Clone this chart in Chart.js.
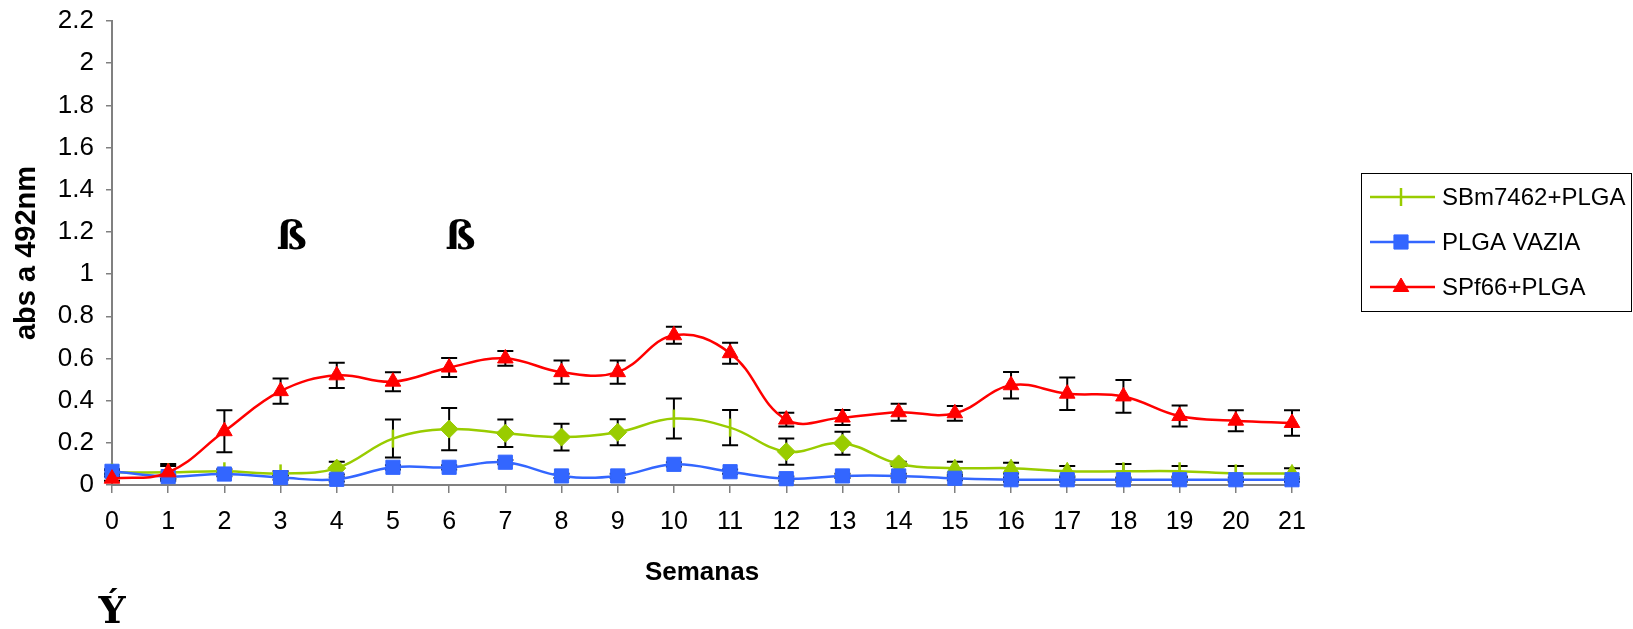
<!DOCTYPE html>
<html>
<head>
<meta charset="utf-8">
<script src="https://cdn.jsdelivr.net/npm/chart.js@4.4.0/dist/chart.umd.min.js"></script>
<style>
  html, body { margin: 0; padding: 0; background: #fff; }
</style>
</head>
<body>
<canvas id="absChart" width="1633" height="629"></canvas>
<script>
// semanas (eixo x)
const weeks = ['0', '1', '2', '3', '4', '5', '6', '7', '8', '9', '10', '11', '12', '13', '14', '15', '16', '17', '18', '19', '20', '21'];
const yTicks = [0, 0.2, 0.4, 0.6, 0.8, 1, 1.2, 1.4, 1.6, 1.8, 2, 2.2];

// médias
const sbmPlga = [0.06, 0.06, 0.065, 0.055, 0.08, 0.22, 0.265, 0.245, 0.227, 0.25, 0.315, 0.272, 0.158, 0.198, 0.10, 0.08, 0.08, 0.065, 0.065, 0.065, 0.055, 0.055];
const plgaVazia = [0.065, 0.04, 0.052, 0.035, 0.027, 0.084, 0.084, 0.108, 0.043, 0.043, 0.098, 0.063, 0.03, 0.043, 0.043, 0.032, 0.025, 0.025, 0.025, 0.025, 0.025, 0.025];
const spfPlga = [0.03, 0.06, 0.255, 0.445, 0.52, 0.49, 0.557, 0.60, 0.535, 0.535, 0.71, 0.625, 0.31, 0.32, 0.345, 0.34, 0.473, 0.433, 0.42, 0.327, 0.305, 0.294];

// desvios (meia barra)
const sbmErr = [0.01, 0.03, 0.01, 0.01, 0.03, 0.09, 0.10, 0.065, 0.063, 0.062, 0.095, 0.084, 0.062, 0.055, 0.01, 0.03, 0.025, 0.025, 0.035, 0.025, 0.035, 0.025];
const vaziaErr = [0.01, 0.01, 0.01, 0.01, 0.01, 0.01, 0.01, 0.01, 0.01, 0.01, 0.01, 0.01, 0.01, 0.01, 0.01, 0.01, 0.01, 0.01, 0.01, 0.01, 0.01, 0.01];
const spfErr = [0.01, 0.04, 0.1, 0.06, 0.06, 0.045, 0.045, 0.035, 0.055, 0.055, 0.04, 0.05, 0.033, 0.036, 0.04, 0.035, 0.063, 0.077, 0.078, 0.05, 0.05, 0.06];

// marcadores do SBm7462 mudam ao longo da série
const sbmMarks = ['line', 'line', 'line', 'line', 'rectRot', 'line', 'rectRot', 'rectRot', 'rectRot', 'rectRot', 'line', 'line',
  'rectRot', 'rectRot', 'rectRot', 'triangle', 'triangle', 'triangle', 'line', 'line', 'line', 'triangle'];

const betaWeeks = [3.2, 6.2];
const betaLevel = 1.17;

const GREEN = '#99CC00', BLUE = '#3366FF', RED = '#FF0000';
const FONT = 'Liberation Sans, Arial, sans-serif';

const errorBars = {
  id: 'errorBars',
  beforeDatasetsDraw(chart) {
    const { ctx, scales: { x, y } } = chart;
    ctx.save();
    ctx.strokeStyle = '#000';
    ctx.lineWidth = 2;
    chart.data.datasets.forEach(ds => {
      ds.data.forEach((v, i) => {
        const px = x.getPixelForValue(i);
        const top = y.getPixelForValue(v + ds.err[i]);
        const bot = y.getPixelForValue(Math.max(v - ds.err[i], 0));
        ctx.beginPath();
        ctx.moveTo(px, top); ctx.lineTo(px, bot);
        ctx.moveTo(px - 8, top); ctx.lineTo(px + 8, top);
        ctx.moveTo(px - 8, bot); ctx.lineTo(px + 8, bot);
        ctx.stroke();
      });
    });
    ctx.restore();
  }
};

const extras = {
  id: 'extras',
  afterDraw(chart) {
    const { ctx, chartArea, scales: { x, y } } = chart;
    ctx.save();
    // legenda
    const lx = chartArea.right + 69, ly = 173;
    ctx.strokeStyle = '#000';
    ctx.lineWidth = 1;
    ctx.strokeRect(lx + 0.5, ly + 0.5, 270, 138);
    const items = [
      { label: 'SBm7462+PLGA', color: GREEN, style: 'line', rotation: 90, radius: 9 },
      { label: 'PLGA VAZIA', color: BLUE, style: 'rect', rotation: 0, radius: 10 },
      { label: 'SPf66+PLGA', color: RED, style: 'triangle', rotation: 0, radius: 9 }
    ];
    items.forEach((it, k) => {
      const cy = ly + 24 + k * 45;
      ctx.strokeStyle = it.color;
      ctx.lineWidth = 2.5;
      ctx.beginPath();
      ctx.moveTo(lx + 9, cy); ctx.lineTo(lx + 74, cy);
      ctx.stroke();
      ctx.fillStyle = it.color;
      ctx.lineWidth = it.style === 'line' ? 2.5 : 1;
      Chart.helpers.drawPoint(ctx, { pointStyle: it.style, radius: it.radius, rotation: it.rotation, borderWidth: 1 }, lx + 40, cy);
      ctx.fillStyle = '#000';
      ctx.font = '24px ' + FONT;
      ctx.textBaseline = 'middle';
      ctx.textAlign = 'left';
      ctx.fillText(it.label, lx + 81, cy + 1);
    });
    // símbolos
    ctx.fillStyle = '#000';
    ctx.textAlign = 'center';
    ctx.textBaseline = 'middle';
    ctx.font = 'bold 40px DejaVu Serif, serif';
    betaWeeks.forEach(w => ctx.fillText('ß', x.getPixelForValue(w), y.getPixelForValue(betaLevel)));
    ctx.font = 'bold 38px DejaVu Serif, serif';
    ctx.fillText('Ý', x.getPixelForValue(0), chart.height - 16);
    ctx.restore();
  }
};

new Chart(document.getElementById('absChart'), {
  type: 'line',
  plugins: [errorBars, extras],
  data: {
    labels: weeks,
    datasets: [
      {
        label: 'SBm7462+PLGA',
        data: sbmPlga,
        err: sbmErr,
        borderColor: GREEN,
        backgroundColor: GREEN,
        pointStyle: sbmMarks,
        pointRotation: sbmMarks.map(s => s === 'line' ? 90 : 0),
        pointRadius: 9,
        pointBorderWidth: sbmMarks.map(s => s === 'line' ? 2.5 : 1),
        order: 3
      },
      {
        label: 'PLGA VAZIA',
        data: plgaVazia,
        err: vaziaErr,
        borderColor: BLUE,
        backgroundColor: BLUE,
        pointStyle: 'rect',
        pointRadius: 10,
        pointBorderWidth: 1,
        order: 2
      },
      {
        label: 'SPf66+PLGA',
        data: spfPlga,
        err: spfErr,
        borderColor: RED,
        backgroundColor: RED,
        pointStyle: 'triangle',
        pointRadius: 9,
        pointBorderWidth: 1,
        order: 1
      }
    ]
  },
  options: {
    responsive: false,
    animation: false,
    datasets: {
      line: {
        borderWidth: 2.5,
        tension: 0.4,
        fill: false,
        clip: false
      }
    },
    layout: {
      padding: { top: 21, right: 341, bottom: 0, left: 0 }
    },
    plugins: {
      legend: { display: false },
      tooltip: { enabled: false }
    },
    scales: {
      x: {
        offset: false,
        border: { color: '#808080', width: 2 },
        grid: { drawOnChartArea: false, tickLength: 8, color: '#808080', lineWidth: 1.5 },
        ticks: { color: '#000', font: { family: FONT, size: 25 }, padding: 14, maxRotation: 0, autoSkip: false },
        title: {
          display: true,
          text: 'Semanas',
          color: '#000',
          font: { family: FONT, size: 26, weight: 'bold' },
          padding: { top: 0, bottom: 41 }
        },
        afterFit(s) { s.height = 144; s.paddingLeft = 0; s.paddingRight = 0; }
      },
      y: {
        min: 0,
        max: 2.2,
        border: { color: '#808080', width: 2 },
        grid: { drawOnChartArea: false, tickLength: 6, color: '#808080', lineWidth: 1.5 },
        afterBuildTicks(s) { s.ticks = yTicks.map(v => ({ value: v })); },
        ticks: {
          color: '#000',
          font: { family: FONT, size: 26 },
          padding: 12,
          callback: v => String(v)
        },
        title: {
          display: true,
          text: 'abs a 492nm',
          color: '#000',
          font: { family: FONT, size: 29, weight: 'bold' },
          padding: { top: 10, bottom: 0 }
        },
        afterFit(s) { s.width = 112; s.paddingTop = 0; s.paddingBottom = 0; }
      }
    }
  }
});
</script>
</body>
</html>
